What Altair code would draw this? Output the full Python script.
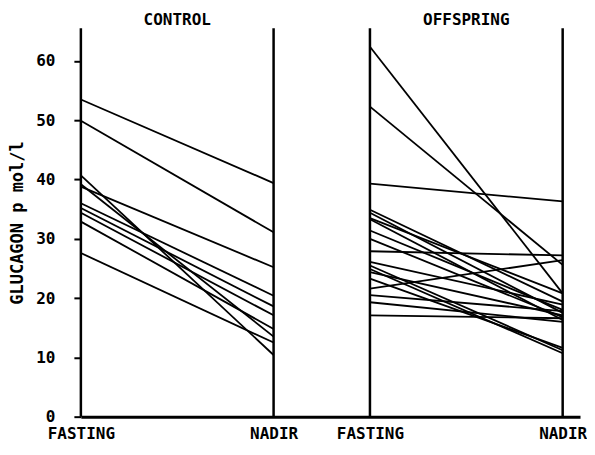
import altair as alt
import pandas as pd

# ---- data ----
groups = ["CONTROL", "OFFSPRING"]
phases = ["FASTING", "NADIR"]

control_fasting = [53.5, 49.9, 40.7, 39.2, 38.8, 36.0, 35.2, 34.4, 32.9, 27.6]
control_nadir = [39.4, 31.1, 10.4, 13.5, 25.2, 20.4, 18.6, 17.1, 14.8, 12.5]

offspring_fasting = [62.4, 52.3, 39.3, 34.9, 34.4, 33.5, 33.3, 31.4, 30.0, 27.9,
                     26.1, 25.5, 24.9, 24.4, 23.3, 21.6, 20.5, 19.3, 17.1]
offspring_nadir = [20.8, 25.6, 36.3, 19.4, 17.5, 20.8, 16.3, 18.0, 16.8, 27.2,
                   18.9, 11.2, 10.7, 17.1, 11.6, 26.4, 17.8, 16.0, 16.6]

y_ticks = [0, 10, 20, 30, 40, 50, 60]
YMAX = 65.5

# horizontal placement of each panel on the shared axis
group_start = {"CONTROL": 0.0, "OFFSPRING": 1.5}

rows = []
for g, fa, na in [("CONTROL", control_fasting, control_nadir),
                  ("OFFSPRING", offspring_fasting, offspring_nadir)]:
    for i, (a, b) in enumerate(zip(fa, na)):
        for k, (ph, v) in enumerate(zip(phases, [a, b])):
            rows.append({"id": f"{g}-{i}", "group": g, "phase": ph,
                         "value": v, "pos": group_start[g] + k})
df = pd.DataFrame(rows)

axes_df = pd.DataFrame([{"pos": group_start[g] + k, "phase": ph, "lo": 0, "hi": YMAX}
                        for g in groups for k, ph in enumerate(phases)])
titles_df = pd.DataFrame([{"group": g, "pos": group_start[g] + 0.5} for g in groups])

FONT = "DejaVu Sans Mono"

xscale = alt.Scale(domain=[0, 2.59], nice=False, zero=False)
yscale = alt.Scale(domain=[0, YMAX], nice=False)

lines = alt.Chart(df).mark_line(color="black", strokeWidth=1.8).encode(
    x=alt.X("pos:Q", scale=xscale,
            axis=alt.Axis(values=axes_df["pos"].tolist(),
                          labelExpr="datum.value == 0 || datum.value == 1.5 ? 'FASTING' : 'NADIR'",
                          ticks=False, grid=False, domain=True, domainColor="black",
                          domainWidth=3, labelFont=FONT, labelFontWeight="bold",
                          labelFontSize=16, labelColor="black", labelPadding=9,
                          labelFlush=False, labelOverlap=False, title=None)),
    y=alt.Y("value:Q", scale=yscale,
            axis=alt.Axis(values=y_ticks, grid=False, domain=False, tickSize=7,
                          tickWidth=2, tickColor="black", labelFont=FONT,
                          labelFontWeight="bold", labelFontSize=16, labelColor="black",
                          labelPadding=19, title="GLUCAGON p mol/l", titleFont=FONT,
                          titleFontSize=17, titleFontWeight="bold", titleColor="black",
                          titlePadding=9)),
    detail="id:N",
)

rules = alt.Chart(axes_df).mark_rule(color="black", strokeWidth=2.5).encode(
    x=alt.X("pos:Q", scale=xscale),
    y=alt.Y("lo:Q", scale=yscale),
    y2="hi:Q",
)

titles = alt.Chart(titles_df).mark_text(
    font=FONT, fontWeight="bold", fontSize=16, color="black", baseline="alphabetic"
).encode(
    x=alt.X("pos:Q", scale=xscale),
    y=alt.value(-3),
    text="group:N",
)

chart = alt.layer(lines, rules, titles).properties(
    width=500, height=389,
    padding={"left": 0, "top": 4, "right": 0, "bottom": 0},
).configure_view(strokeWidth=0)

chart.save("out.html", embed_options={"renderer": "svg", "actions": False})
